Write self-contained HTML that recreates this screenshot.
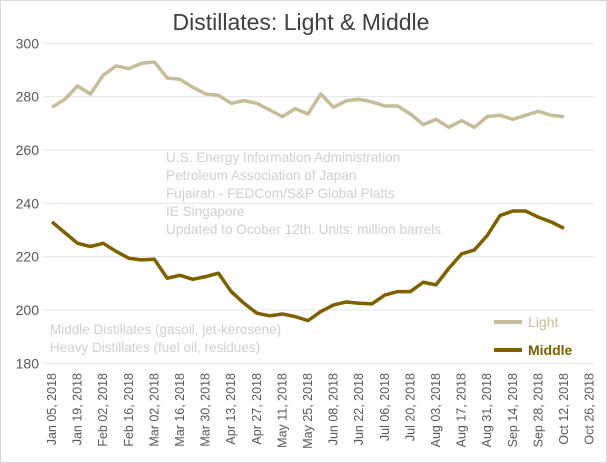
<!DOCTYPE html>
<html><head><meta charset="utf-8"><style>
body{margin:0;background:#fff;}
svg{display:block;font-family:"Liberation Sans",sans-serif;}
</style></head><body>
<svg width="607" height="463">
<rect x="0.5" y="0.5" width="606" height="462" fill="#fff" stroke="#d9d9d9"/>
<text x="301" y="30" text-anchor="middle" font-size="23" fill="#404040">Distillates: Light &amp; Middle</text>
<g id="grid"></g><g id="yt"></g><g id="xt"></g>
<g fill="#d0d0d0" font-size="13.6">
<text x="166" y="162">U.S. Energy Information Administration</text>
<text x="166" y="180">Petroleum Association of Japan</text>
<text x="166" y="198">Fujairah - FEDCom/S&amp;P Global Platts</text>
<text x="166" y="216">IE Singapore</text>
<text x="166" y="234">Updated to Ocober 12th. Units: million barrels</text>
</g>
<g fill="#d0d0d0" font-size="13.5">
<text x="50" y="334">Middle Distillates (gasoil, jet-kerosene)</text>
<text x="50" y="352">Heavy Distillates (fuel oil, residues)</text>
</g>
<g id="series"></g>
<g>
<line x1="494" y1="322" x2="522" y2="322" stroke="#c4bd97" stroke-width="4"/>
<text x="528" y="327" font-size="14" fill="#c4bd97">Light</text>
<line x1="494" y1="350" x2="522" y2="350" stroke="#7f6000" stroke-width="4"/>
<text x="528" y="355" font-size="14" font-weight="bold" fill="#7f6000">Middle</text>
</g>
</svg>
<script>
const light=[276,279,284,281,288,291.5,290.5,292.5,293,287,286.5,283.5,281,280.5,277.5,278.5,277.5,275,272.5,275.5,273.5,281,276,278.5,279,278,276.5,276.5,273.5,269.5,271.5,268.5,271,268.5,272.5,273,271.5,273,274.5,273,272.5];
const middle=[233,229,225,223.8,225,222,219.4,218.8,219,211.9,213,211.5,212.5,213.8,206.9,202.5,198.8,197.8,198.5,197.5,196,199.4,201.9,203,202.5,202.3,205.6,206.9,206.9,210.4,209.4,215.6,221,222.5,227.9,235.4,237.1,237.1,234.8,233,230.6];
const xLabels=["Jan 05, 2018","Jan 19, 2018","Feb 02, 2018","Feb 16, 2018","Mar 02, 2018","Mar 16, 2018","Mar 30, 2018","Apr 13, 2018","Apr 27, 2018","May 11, 2018","May 25, 2018","Jun 08, 2018","Jun 22, 2018","Jul 06, 2018","Jul 20, 2018","Aug 03, 2018","Aug 17, 2018","Aug 31, 2018","Sep 14, 2018","Sep 28, 2018","Oct 12, 2018","Oct 26, 2018"];
const yTicks=[180,200,220,240,260,280,300];
const NS="http://www.w3.org/2000/svg";
const x0=52,step=12.8,yTop=43.3,yBot=363.3;
const X=i=>x0+i*step;
const Y=v=>yBot-(v-180)/120*(yBot-yTop);
function mk(t,a,p){const e=document.createElementNS(NS,t);for(const k in a)e.setAttribute(k,a[k]);p.appendChild(e);return e;}
const grid=document.getElementById('grid'),yt=document.getElementById('yt'),xt=document.getElementById('xt'),ser=document.getElementById('series');
yTicks.forEach(v=>{
 const l=mk('line',{x1:44,x2:594,y1:Y(v),y2:Y(v),stroke:'#e6e6e6','stroke-width':1},grid);
 
 
 const t=mk('text',{x:39,y:Y(v)+5,'text-anchor':'end','font-size':14,fill:'#595959'},yt);
 t.textContent=v;
 
 
});
xLabels.forEach((s,k)=>{
 const x=X(k*2)+4;
 const t=mk('text',{x:0,y:0,transform:`translate(${x},373) rotate(-90)`,'text-anchor':'end','font-size':12.5,fill:'#595959'},xt);
 t.textContent=s;
 
 
});
function line(d,c,name){
 const p=mk('polyline',{points:d.map((v,i)=>X(i)+','+Y(v)).join(' '),fill:'none',stroke:c,'stroke-width':3.5,'stroke-linejoin':'round'},ser);
 
 
}
line(light,'#c4bd97','light-line');
line(middle,'#7f6000','middle-line');
</script>
</body></html>
